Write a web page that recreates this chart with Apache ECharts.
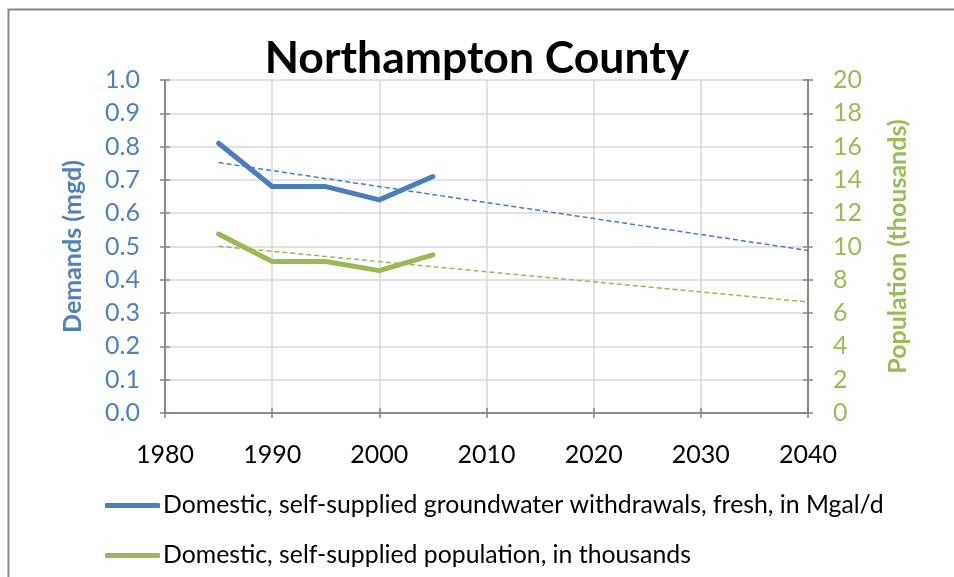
<!DOCTYPE html>
<html>
<head>
<meta charset="utf-8">
<title>Northampton County</title>
<script src="https://cdn.jsdelivr.net/npm/echarts@6/dist/echarts.min.js"></script>
<style>
  html, body { margin: 0; padding: 0; background: #fff; }
  #chart { width: 954px; height: 577px; }
</style>
</head>
<body>
<div id="chart"></div>
<script>
// Survey years
const years = [1985, 1990, 1995, 2000, 2005];
// Domestic self-supplied groundwater withdrawals, Mgal/d
const withdrawals = [0.81, 0.68, 0.68, 0.64, 0.71];
// Domestic self-supplied population, thousands
const population = [10.75, 9.1, 9.1, 8.55, 9.5];
// Linear trend end points (1985 and 2040)
const trendYears = [1985, 2040];
const withdrawalTrend = [0.752, 0.488];
const populationTrend = [10.01, 6.66];

const names = [
  'Domestic, self-supplied groundwater withdrawals, fresh, in Mgal/d',
  'Domestic, self-supplied population, in thousands'
];

const FONT = 'Lato, "Open Sans", sans-serif';
const BLUE = '#4a7ebb';
const GREEN = '#98b954';
const BLUE_TXT = '#4f81bd';
const GREEN_TXT = '#9bbb59';
const AXIS = '#868686';
const GRID = '#d9d9d9';

const pairs = (xs, ys) => xs.map((x, i) => [x, ys[i]]);

const chart = echarts.init(document.getElementById('chart'), null, { renderer: 'canvas' });

const baseX = {
  type: 'value', min: 1980, max: 2040, interval: 10,
  axisLine: { show: true, lineStyle: { color: AXIS, width: 1.5 } }
};
const leftY = {
  type: 'value', position: 'left', min: 0, max: 1, interval: 0.1,
  axisLine: { show: true, lineStyle: { color: AXIS, width: 1.5 } }
};
const rightY = {
  type: 'value', position: 'right', min: 0, max: 20, interval: 2,
  axisLine: { show: true, lineStyle: { color: AXIS, width: 1.5 } }
};

chart.setOption({
  animation: false,
  backgroundColor: '#fff',
  graphic: [{
    type: 'rect', left: 6, top: 7, z: -1,
    shape: { width: 960, height: 580 },
    style: { fill: 'none', stroke: '#888', lineWidth: 2 }
  }],
  title: {
    text: 'Northampton County',
    left: 'center', top: 31,
    textStyle: { fontFamily: FONT, fontWeight: 'bold', fontSize: 44.5, color: '#000' }
  },
  grid: { left: 165, right: 146, top: 80, bottom: 164 },
  legend: {
    orient: 'vertical', left: 100, top: 488, itemGap: 25,
    itemWidth: 55, itemHeight: 5, icon: 'roundRect',
    data: names,
    textStyle: { fontFamily: FONT, fontSize: 24.8, color: '#000', padding: [0, 0, 0, -2] }
  },
  xAxis: [
    Object.assign({}, baseX, {
      axisTick: { show: true, inside: false, length: 5, lineStyle: { color: AXIS, width: 1.5 } },
      axisLabel: { margin: 29, fontFamily: FONT, fontSize: 25, color: '#000',
        formatter: v => String(v) },
      splitLine: { show: true, lineStyle: { color: GRID, width: 1.5 } }
    }),
    Object.assign({}, baseX, {
      position: 'bottom',
      axisTick: { show: true, inside: true, length: 5, lineStyle: { color: AXIS, width: 1.5 } },
      axisLabel: { show: false },
      splitLine: { show: false }
    })
  ],
  yAxis: [
    Object.assign({}, leftY, {
      name: 'Demands (mgd)', nameLocation: 'middle', nameGap: 80, nameRotate: 90,
      nameTextStyle: { fontFamily: FONT, fontWeight: 'bold', fontSize: 25, color: BLUE_TXT },
      axisTick: { show: true, inside: false, length: 5, lineStyle: { color: AXIS, width: 1.5 } },
      axisLabel: { margin: 25, fontFamily: FONT, fontSize: 25, color: BLUE_TXT,
        formatter: v => v.toFixed(1) },
      splitLine: { show: true, lineStyle: { color: GRID, width: 1.5 } }
    }),
    Object.assign({}, rightY, {
      name: 'Population (thousands)', nameLocation: 'middle', nameGap: 77, nameRotate: 90,
      nameTextStyle: { fontFamily: FONT, fontWeight: 'bold', fontSize: 25, color: GREEN_TXT },
      axisTick: { show: true, inside: false, length: 5, lineStyle: { color: AXIS, width: 1.5 } },
      axisLabel: { margin: 25, fontFamily: FONT, fontSize: 25, color: GREEN_TXT },
      splitLine: { show: false }
    }),
    Object.assign({}, leftY, {
      axisTick: { show: true, inside: true, length: 5, lineStyle: { color: AXIS, width: 1.5 } },
      axisLabel: { show: false }, splitLine: { show: false }
    }),
    Object.assign({}, rightY, {
      axisTick: { show: true, inside: true, length: 5, lineStyle: { color: AXIS, width: 1.5 } },
      axisLabel: { show: false }, splitLine: { show: false }
    })
  ],
  series: [
    {
      name: names[0], type: 'line', yAxisIndex: 0, symbol: 'none',
      data: pairs(years, withdrawals),
      lineStyle: { color: BLUE, width: 5, cap: 'round', join: 'round' },
      itemStyle: { color: BLUE }, z: 4
    },
    {
      name: names[1], type: 'line', yAxisIndex: 1, symbol: 'none',
      data: pairs(years, population),
      lineStyle: { color: GREEN, width: 5, cap: 'round', join: 'round' },
      itemStyle: { color: GREEN }, z: 4
    },
    {
      name: 'withdrawal trend', type: 'line', yAxisIndex: 0, symbol: 'none',
      data: pairs(trendYears, withdrawalTrend),
      lineStyle: { color: BLUE, width: 1.5, type: [5, 3] }, z: 3
    },
    {
      name: 'population trend', type: 'line', yAxisIndex: 1, symbol: 'none',
      data: pairs(trendYears, populationTrend),
      lineStyle: { color: GREEN, width: 1.5, type: [5, 3] }, z: 3
    }
  ]
});
</script>
</body>
</html>
